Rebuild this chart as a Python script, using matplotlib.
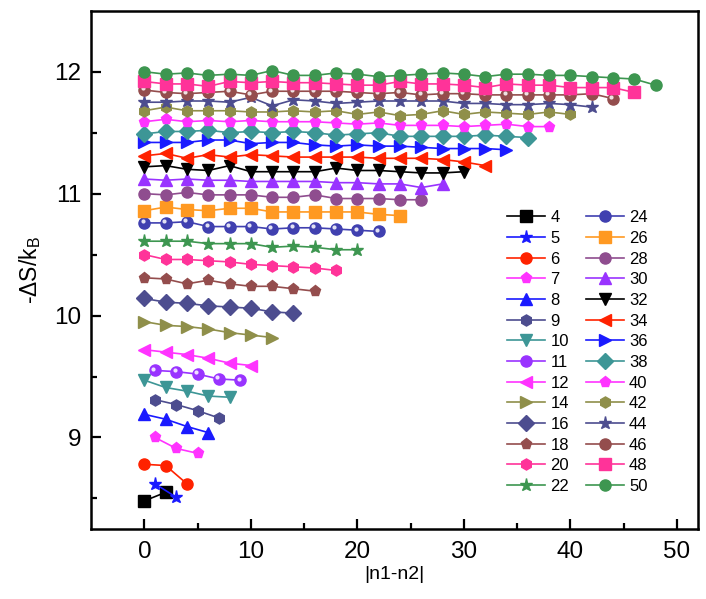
import numpy as np
import matplotlib
matplotlib.use("Agg")
import matplotlib.pyplot as plt
from matplotlib.transforms import ScaledTranslation

plt.rcParams['font.family'] = ['Liberation Sans', 'DejaVu Sans']

# -dS/kB vs |n1-n2| for each total n
sizes = [4, 5, 6, 7, 8, 9, 10, 11, 12, 14, 16, 18, 20, 22,
         24, 26, 28, 30, 32, 34, 36, 38, 40, 42, 44, 46, 48, 50]

y04 = [8.48, 8.55]
y05 = [8.62, 8.51]
y06 = [8.78, 8.77, 8.62]
y07 = [9.00, 8.91, 8.87]
y08 = [9.19, 9.15, 9.09, 9.04]
y09 = [9.31, 9.27, 9.22, 9.16]
y10 = [9.47, 9.41, 9.38, 9.34, 9.33]
y11 = [9.55, 9.54, 9.52, 9.48, 9.47]
y12 = [9.72, 9.70, 9.68, 9.65, 9.61, 9.59]
y14 = [9.95, 9.92, 9.91, 9.89, 9.86, 9.84, 9.82]
y16 = [10.14, 10.11, 10.10, 10.08, 10.07, 10.06, 10.03, 10.02]
y18 = [10.31, 10.30, 10.26, 10.29, 10.26, 10.24, 10.24, 10.22, 10.20]
y20 = [10.50, 10.46, 10.46, 10.45, 10.44, 10.42, 10.41, 10.40, 10.39, 10.37]
y22 = [10.61, 10.61, 10.61, 10.59, 10.59, 10.59, 10.56, 10.57, 10.56, 10.54, 10.54]
y24 = [10.76, 10.76, 10.77, 10.73, 10.73, 10.73, 10.71, 10.72, 10.72, 10.71,
       10.70, 10.69]
y26 = [10.86, 10.89, 10.87, 10.86, 10.88, 10.88, 10.85, 10.85, 10.85, 10.85,
       10.85, 10.83, 10.82]
y28 = [11.00, 10.99, 11.01, 10.99, 10.99, 10.99, 10.97, 10.97, 10.99, 10.96,
       10.96, 10.96, 10.95, 10.95]
y30 = [11.12, 11.11, 11.12, 11.11, 11.11, 11.10, 11.10, 11.10, 11.10, 11.09,
       11.09, 11.08, 11.08, 11.05, 11.08]
y32 = [11.22, 11.23, 11.20, 11.19, 11.23, 11.18, 11.18, 11.18, 11.18, 11.21,
       11.19, 11.19, 11.18, 11.17, 11.17, 11.18]
y34 = [11.31, 11.33, 11.29, 11.32, 11.30, 11.32, 11.31, 11.30, 11.30, 11.30,
       11.30, 11.29, 11.29, 11.29, 11.28, 11.26, 11.23]
y36 = [11.42, 11.42, 11.42, 11.44, 11.44, 11.41, 11.42, 11.42, 11.40, 11.39,
       11.40, 11.39, 11.39, 11.38, 11.37, 11.37, 11.37, 11.36]
y38 = [11.49, 11.51, 11.51, 11.52, 11.50, 11.51, 11.50, 11.51, 11.50, 11.48,
       11.49, 11.50, 11.47, 11.47, 11.47, 11.47, 11.48, 11.47, 11.46]
y40 = [11.59, 11.61, 11.59, 11.60, 11.59, 11.60, 11.59, 11.59, 11.59, 11.58,
       11.57, 11.58, 11.56, 11.56, 11.56, 11.55, 11.56, 11.57, 11.55, 11.55]
y42 = [11.68, 11.71, 11.68, 11.68, 11.68, 11.67, 11.67, 11.68, 11.67, 11.68,
       11.65, 11.67, 11.64, 11.65, 11.68, 11.65, 11.67, 11.66, 11.65, 11.67,
       11.65]
y44 = [11.75, 11.75, 11.76, 11.76, 11.75, 11.79, 11.72, 11.77, 11.76, 11.74,
       11.75, 11.76, 11.76, 11.76, 11.76, 11.74, 11.74, 11.73, 11.73, 11.74,
       11.73, 11.71]
y46 = [11.85, 11.83, 11.82, 11.83, 11.84, 11.81, 11.84, 11.84, 11.84, 11.84,
       11.83, 11.82, 11.83, 11.81, 11.82, 11.82, 11.81, 11.81, 11.81, 11.81,
       11.81, 11.82, 11.78]
y48 = [11.92, 11.90, 11.90, 11.88, 11.92, 11.91, 11.92, 11.91, 11.91, 11.90,
       11.89, 11.89, 11.92, 11.90, 11.90, 11.89, 11.87, 11.90, 11.89, 11.89,
       11.87, 11.87, 11.87, 11.83]
y50 = [12.00, 11.98, 11.99, 11.97, 11.98, 11.97, 12.01, 11.97, 11.97, 11.99,
       11.98, 11.96, 11.97, 11.98, 11.99, 11.98, 11.96, 11.98, 11.98, 11.97,
       11.97, 11.96, 11.95, 11.94, 11.89]

values = [y04, y05, y06, y07, y08, y09, y10, y11, y12, y14, y16, y18, y20, y22,
          y24, y26, y28, y30, y32, y34, y36, y38, y40, y42, y44, y46, y48, y50]

# marker, colour, sphere-shading per series
styles = [
    ('s', '#000000', False), ('*', '#1a1aff', False), ('o', '#ff2200', False),
    ('p', '#ff33ff', False), ('^', '#1a1aff', False), ('h', '#4d4d8f', False),
    ('v', '#3d9696', False), ('o', '#9933ff', True), ('<', '#ff33ff', False),
    ('>', '#8f8f4a', False), ('D', '#4d4d8f', False), ('p', '#944d4d', False),
    ('h', '#ff3399', False), ('*', '#3d9650', False),
    ('o', '#4040b0', True), ('s', '#ff9922', False), ('o', '#8f4d8f', False),
    ('^', '#9933ff', False), ('v', '#000000', False), ('<', '#ff2200', False),
    ('>', '#1a1aff', False), ('D', '#3d9696', False), ('p', '#ff33ff', False),
    ('h', '#8f8f4a', False), ('*', '#4d4d8f', False), ('o', '#944d4d', True),
    ('s', '#ff3399', False), ('o', '#3d9650', False),
]

fig = plt.figure(figsize=(7.06, 5.99), dpi=100)
ax = fig.add_axes([0.129, 0.117, 0.860, 0.865])

shine = ax.transData + ScaledTranslation(-1.2 / 72, 1.2 / 72, fig.dpi_scale_trans)

for n, yv, (mk, col, sphere) in zip(sizes, values, styles):
    xv = np.arange(n % 2, n - 1, 2)
    ms = 9.5 if mk == '*' else 8
    ax.plot(xv, yv, marker=mk, color=col, ms=ms, lw=1.2, mec=col,
            label=str(n))
    if sphere:
        ax.plot(xv, yv, ls='none', marker='o', ms=3, color='white',
                mec='none', alpha=0.85, transform=shine)

ax.set_xlim(-5, 52)
ax.set_ylim(8.25, 12.5)
ax.set_xticks([0, 10, 20, 30, 40, 50])
ax.set_xticks(np.arange(5, 50, 10), minor=True)
ax.set_yticks([9, 10, 11, 12])
ax.set_yticks([8.5, 9.5, 10.5, 11.5], minor=True)
ax.tick_params(which='both', direction='in', width=1.6, labelsize=17.5,
               top=False, right=False)
ax.tick_params(which='major', length=7)
ax.tick_params(which='minor', length=4)
ax.tick_params(axis='x', which='major', pad=9)
ax.tick_params(axis='y', which='major', pad=7)
for sp in ax.spines.values():
    sp.set_linewidth(1.8)

ax.set_xlabel('|n1-n2|', fontsize=14, labelpad=2)
ax.set_ylabel('-ΔS/k$_{\\mathregular{B}}$', fontsize=16.5, labelpad=8)

ax.legend(ncol=2, frameon=False, fontsize=12, loc='upper left',
          bbox_to_anchor=(0.685, 0.615), handlelength=2.3, handletextpad=0.3,
          labelspacing=0.34, columnspacing=1.0, borderaxespad=0, borderpad=0)

fig.savefig('out.png', dpi=100)
